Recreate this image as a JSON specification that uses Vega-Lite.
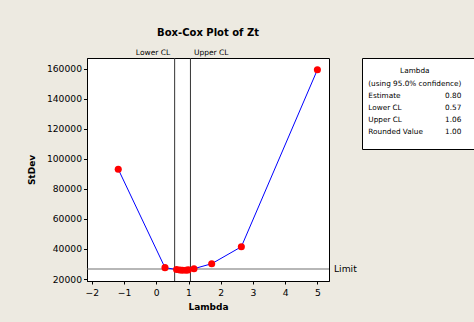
{
  "$schema": "https://vega.github.io/schema/vega-lite/v6.json",
  "background": "#EDEAE1",
  "padding": {"left": 26, "top": 27, "right": 1, "bottom": 14},
  "bounds": "flush",
  "spacing": 33,
  "config": {
    "font": "DejaVu Sans",
    "view": {"stroke": "#000000", "strokeWidth": 1, "fill": "#ffffff"},
    "axis": {"grid": false, "labelColor": "#000000", "titleColor": "#000000", "tickColor": "#000000", "domainColor": "#000000"}
  },
  "hconcat": [
    {
      "width": 242,
      "height": 223,
      "title": {"text": "Box-Cox Plot of Zt", "fontSize": 10, "fontWeight": "bold", "color": "#000000", "offset": 10},
      "data": {
        "values": [
          {"lambda": -1.18, "stdev": 93100},
          {"lambda": 0.27, "stdev": 27600},
          {"lambda": 0.63, "stdev": 26300},
          {"lambda": 0.73, "stdev": 26000},
          {"lambda": 0.81, "stdev": 25800},
          {"lambda": 0.92, "stdev": 25900},
          {"lambda": 0.99, "stdev": 26100},
          {"lambda": 1.17, "stdev": 26900},
          {"lambda": 1.72, "stdev": 30200},
          {"lambda": 2.64, "stdev": 41500},
          {"lambda": 5.0, "stdev": 159300}
        ]
      },
      "resolve": {"axis": {"x": "independent", "y": "independent"}},
      "layer": [
        {
          "data": {"values": [{"lambda": 0.57, "bound": "Lower CL"}, {"lambda": 1.06, "bound": "Upper CL"}]},
          "mark": {"type": "rule", "color": "#333333", "strokeWidth": 1},
          "encoding": {
            "x": {
              "field": "lambda", "type": "quantitative",
              "scale": {"domain": [-2.15, 5.36], "nice": false, "zero": false},
              "axis": {
                "orient": "top", "values": [0.57, 1.06], "title": null,
                "labelExpr": "datum.value < 0.8 ? 'Lower CL' : 'Upper CL'",
                "ticks": false, "domain": false, "labelFontSize": 7.5, "labelPadding": 2,
                "labelAlign": {"condition": {"test": "datum.value < 0.8", "value": "right"}, "value": "left"},
                "labelOffset": {"condition": {"test": "datum.value < 0.8", "value": -5}, "value": 3}
              }
            }
          }
        },
        {
          "data": {"values": [{"limit": 26700}]},
          "mark": {"type": "rule", "color": "#707070", "strokeWidth": 1.2},
          "encoding": {
            "y": {
              "field": "limit", "type": "quantitative",
              "scale": {"domain": [18700, 167100], "nice": false, "zero": false},
              "axis": {
                "orient": "right", "values": [26700], "title": null,
                "labelExpr": "'Limit'", "ticks": false, "domain": false,
                "labelFontSize": 9.2, "labelPadding": 4.5
              }
            }
          }
        },
        {
          "mark": {"type": "line", "color": "#0000FF", "strokeWidth": 1},
          "encoding": {
            "x": {
              "field": "lambda", "type": "quantitative",
              "axis": {
                "orient": "bottom", "values": [-2, -1, 0, 1, 2, 3, 4, 5],
                "title": "Lambda", "titleFontSize": 9, "titleFontWeight": "bold", "titlePadding": 5,
                "labelFontSize": 9.2, "tickSize": 3, "labelPadding": 4
              }
            },
            "y": {
              "field": "stdev", "type": "quantitative",
              "axis": {
                "orient": "left", "values": [20000, 40000, 60000, 80000, 100000, 120000, 140000, 160000],
                "format": "d", "title": "StDev", "titleFontSize": 9, "titleFontWeight": "bold", "titlePadding": 10,
                "labelFontSize": 9.2, "tickSize": 3.5, "labelPadding": 2
              }
            }
          }
        },
        {
          "mark": {"type": "circle", "color": "#FF0000", "size": 50, "opacity": 1},
          "encoding": {
            "x": {"field": "lambda", "type": "quantitative", "axis": null},
            "y": {"field": "stdev", "type": "quantitative", "axis": null}
          }
        }
      ]
    },
    {
      "width": 112,
      "height": 91,
      "data": {
        "values": [
          {"label": "Lambda", "value": "", "kind": "header"},
          {"label": "(using 95.0% confidence)", "value": "", "kind": "header"},
          {"label": "Estimate", "value": "0.80", "kind": "row"},
          {"label": "Lower CL", "value": "0.57", "kind": "row"},
          {"label": "Upper CL", "value": "1.06", "kind": "row"},
          {"label": "Rounded Value", "value": "1.00", "kind": "row"}
        ]
      },
      "encoding": {
        "y": {
          "field": "label", "type": "ordinal", "axis": null,
          "scale": {"type": "point", "domain": ["Lambda", "(using 95.0% confidence)", "Estimate", "Lower CL", "Upper CL", "Rounded Value"], "range": [7.4, 80]}
        }
      },
      "layer": [
        {
          "transform": [{"filter": "datum.kind === 'header'"}],
          "mark": {"type": "text", "align": "center", "baseline": "middle", "fontSize": 7.3, "color": "#000000"},
          "encoding": {
            "x": {"datum": 0.5, "type": "quantitative", "scale": {"domain": [0, 1], "range": [6.3, 99.3]}, "axis": null},
            "text": {"field": "label"}
          }
        },
        {
          "transform": [{"filter": "datum.kind === 'row'"}],
          "mark": {"type": "text", "align": "left", "baseline": "middle", "fontSize": 7.3, "color": "#000000"},
          "encoding": {
            "x": {"datum": 0, "type": "quantitative", "axis": null},
            "text": {"field": "label"}
          }
        },
        {
          "transform": [{"filter": "datum.kind === 'row'"}],
          "mark": {"type": "text", "align": "right", "baseline": "middle", "fontSize": 7.3, "color": "#000000"},
          "encoding": {
            "x": {"datum": 1, "type": "quantitative", "axis": null},
            "text": {"field": "value"}
          }
        }
      ]
    }
  ]
}
